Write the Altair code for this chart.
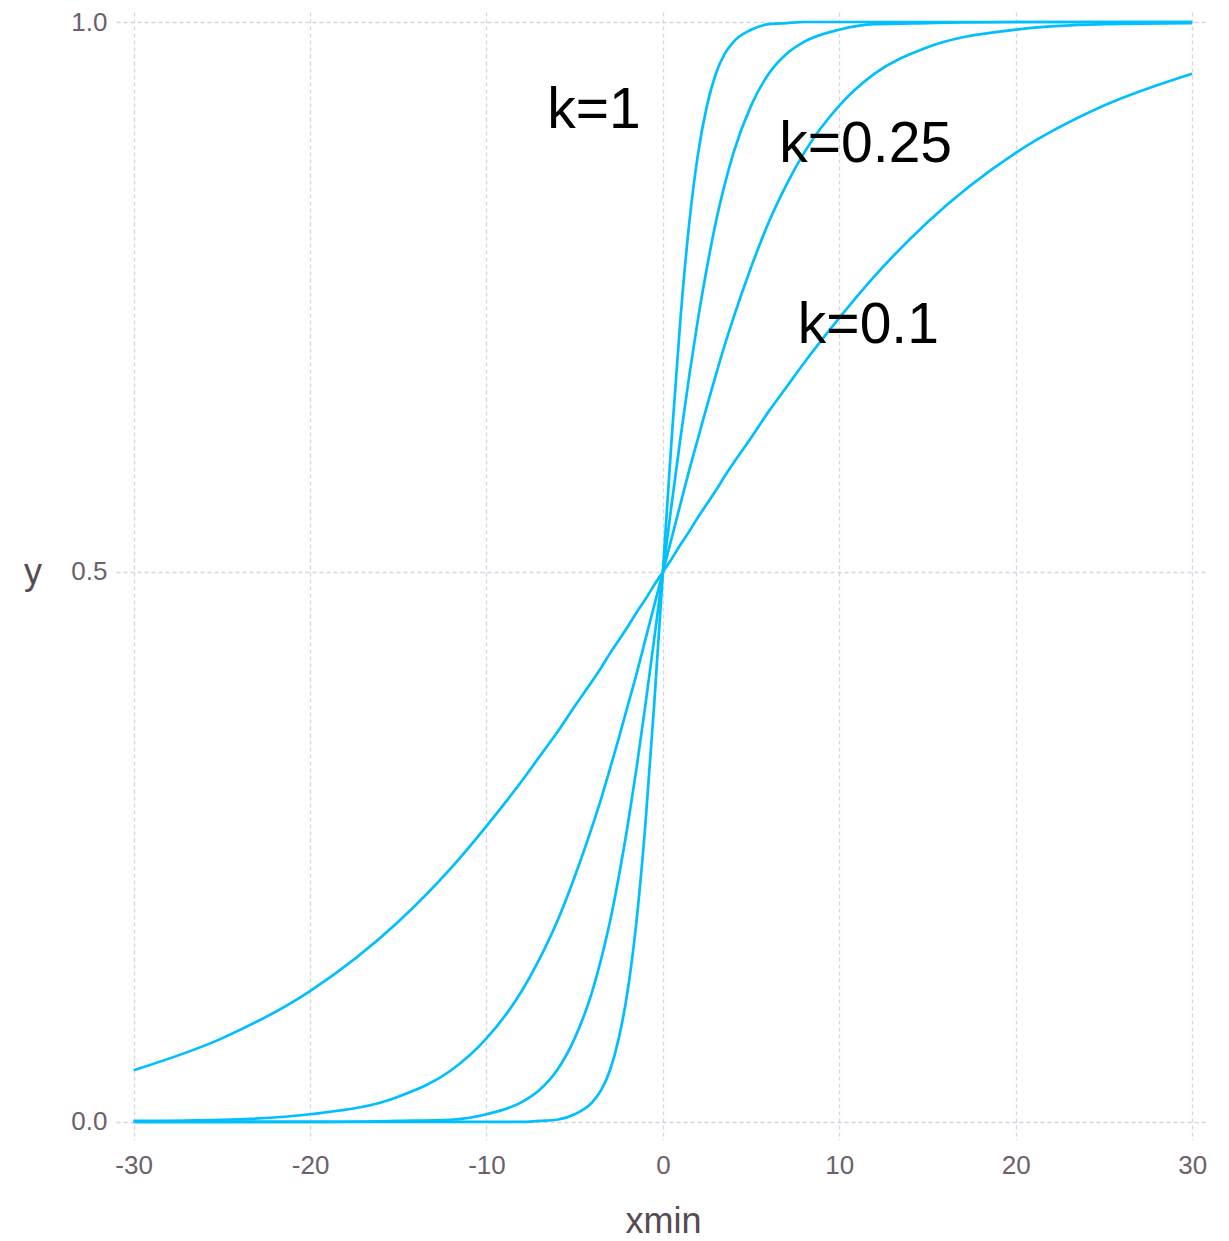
import altair as alt
import pandas as pd

# sample positions along xmin
x_vals = [-30, -25, -20, -15, -12, -10, -8, -7, -6, -5, -4, -3.5, -3, -2.5, -2, -1.5, -1, -0.5,
          0, 0.5, 1, 1.5, 2, 2.5, 3, 3.5, 4, 5, 6, 7, 8, 10, 12, 15, 20, 25, 30]

# curve values
y_k1 = [0.000, 0.000, 0.000, 0.000, 0.000, 0.000, 0.000, 0.001, 0.002, 0.007, 0.018, 0.029, 0.047, 0.076, 0.119, 0.182, 0.269, 0.378,
        0.500, 0.622, 0.731, 0.818, 0.881, 0.924, 0.953, 0.971, 0.982, 0.993, 0.998, 0.999, 1.000, 1.000, 1.000, 1.000, 1.000, 1.000, 1.000]
y_k05 = [0.000, 0.000, 0.000, 0.001, 0.002, 0.007, 0.018, 0.029, 0.047, 0.076, 0.119, 0.148, 0.182, 0.223, 0.269, 0.321, 0.378, 0.438,
         0.500, 0.562, 0.622, 0.679, 0.731, 0.777, 0.818, 0.852, 0.881, 0.924, 0.953, 0.971, 0.982, 0.993, 0.998, 0.999, 1.000, 1.000, 1.000]
y_k025 = [0.001, 0.002, 0.007, 0.023, 0.047, 0.076, 0.119, 0.148, 0.182, 0.223, 0.269, 0.294, 0.321, 0.349, 0.378, 0.407, 0.438, 0.469,
          0.500, 0.531, 0.562, 0.593, 0.622, 0.651, 0.679, 0.706, 0.731, 0.777, 0.818, 0.852, 0.881, 0.924, 0.953, 0.977, 0.993, 0.998, 0.999]
y_k01 = [0.047, 0.076, 0.119, 0.182, 0.231, 0.269, 0.310, 0.332, 0.354, 0.378, 0.401, 0.413, 0.426, 0.438, 0.450, 0.463, 0.475, 0.488,
         0.500, 0.512, 0.525, 0.537, 0.550, 0.562, 0.574, 0.587, 0.599, 0.622, 0.646, 0.668, 0.690, 0.731, 0.769, 0.818, 0.881, 0.924, 0.953]

series = {"1": y_k1, "0.5": y_k05, "0.25": y_k025, "0.1": y_k01}

# annotation labels
ann_text = ["k=1", "k=0.25", "k=0.1"]
ann_x = [-6.55, 6.6, 7.65]
ann_y = [0.904, 0.873, 0.708]

x_ticks = [-30, -20, -10, 0, 10, 20, 30]
y_ticks = [0.0, 0.5, 1.0]

rows = []
for k, ys in series.items():
    for xv, yv in zip(x_vals, ys):
        rows.append({"k": k, "x": xv, "y": yv})
df = pd.DataFrame(rows)
ann = pd.DataFrame({"label": ann_text, "x": ann_x, "y": ann_y})

xscale = alt.Scale(domain=[-31.0, 30.9], nice=False, zero=False)
yscale = alt.Scale(domain=[-0.0164, 1.0091], nice=False, zero=False)

label_color = "#6c606b"
title_color = "#564a55"

lines = alt.Chart(df).mark_line(color="#00BFFF", strokeWidth=2.7, interpolate="monotone").encode(
    x=alt.X("x:Q", scale=xscale, axis=alt.Axis(
        values=x_ticks, labelExpr="'' + datum.value", title="xmin",
        labelFontSize=26, labelColor=label_color, labelPadding=12, labelFont="Liberation Sans",
        titleFontSize=36, titleColor=title_color, titleFont="Liberation Sans", titleFontWeight="normal",
        titleX=547, titleY=92, titleAlign="center", titleBaseline="alphabetic",
    )),
    y=alt.Y("y:Q", scale=yscale, axis=alt.Axis(
        values=y_ticks, format=".1f", title="y",
        labelFontSize=26, labelColor=label_color, labelPadding=9, labelFont="Liberation Sans",
        titleFontSize=36, titleColor=title_color, titleFont="Liberation Sans", titleFontWeight="normal",
        titleAngle=0, titleX=-83.5, titleY=571, titleAlign="center", titleBaseline="alphabetic",
    )),
    detail="k:N",
)

labels = alt.Chart(ann).mark_text(
    font="Liberation Sans", fontSize=57, align="left", baseline="alphabetic", color="black"
).encode(
    x=alt.X("x:Q", scale=xscale),
    y=alt.Y("y:Q", scale=yscale),
    text="label:N",
)

chart = alt.layer(lines, labels).properties(
    width=1092, height=1128,
    autosize=alt.AutoSizeParams(type="none"),
    padding={"left": 108, "top": 4, "right": 5, "bottom": 100},
).configure_view(stroke=None).configure_axis(
    grid=True, gridColor="#D4D4E2", gridDash=[4, 3], gridWidth=1.3,
    domain=False, ticks=False, tickSize=0,
)

chart.save("out.html", embed_options={"renderer": "svg", "actions": False})
